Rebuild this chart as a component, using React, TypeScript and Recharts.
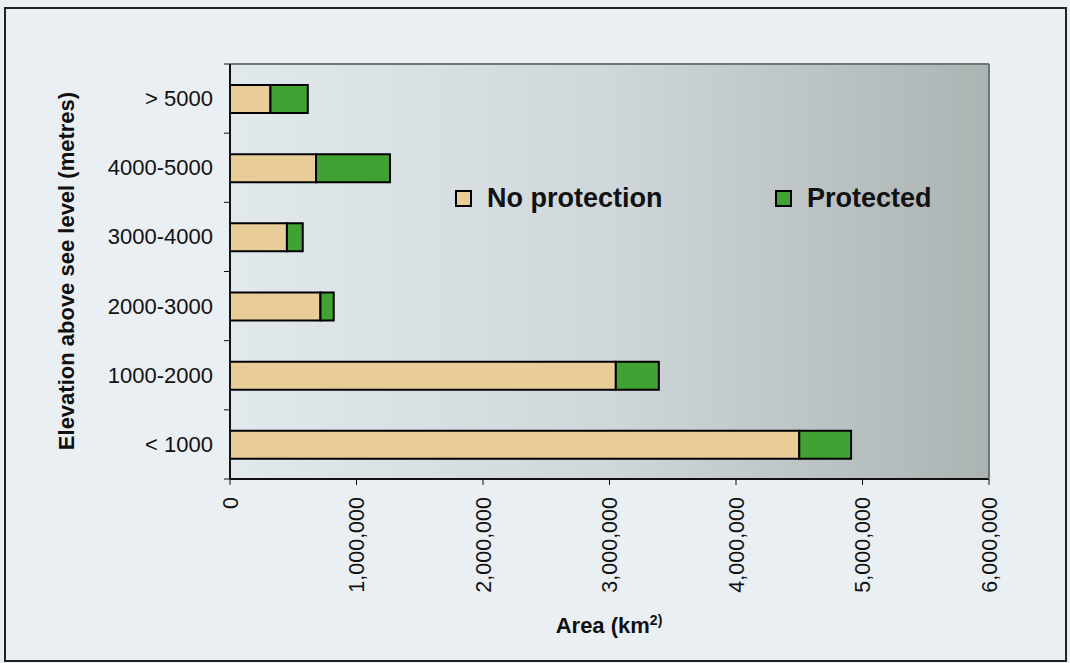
import React from 'react';
import { BarChart, Bar, XAxis, YAxis, CartesianGrid } from 'recharts';

const categories = ['> 5000', '4000-5000', '3000-4000', '2000-3000', '1000-2000', '< 1000'];
const noProtection = [320000, 680000, 450000, 715000, 3050000, 4500000];
const protectedArea = [295000, 585000, 125000, 105000, 340000, 410000];
const xTicks = [0, 1000000, 2000000, 3000000, 4000000, 5000000, 6000000];
const seriesNames = ['No protection', 'Protected'];
const colors = ['#e8cd98', '#3fa233'];

const data = categories.map((c, i) => ({ cat: c, np: noProtection[i], pr: protectedArea[i] }));

const FONT = '"Liberation Sans", Arial, sans-serif';
const CHART_W = 1070;
const CHART_H = 663;
const MARGIN = { top: 63, right: 80, bottom: 183, left: 229 };
const Y_TICK_MARGIN = 17;
const Y_TICK_LEN = 6;

const fmt = (v: number) => v.toLocaleString('en-US');

const XTick = (props: any) => {
  const { x, y, payload } = props;
  return (
    <g transform={`translate(${x},${y})`}>
      <text transform="rotate(-90)" textAnchor="end" dy="0.35em" fontFamily={FONT} fontSize={21.5} fill="#111">
        {fmt(payload.value)}
      </text>
    </g>
  );
};

const YTick = (props: any) => {
  const { x, y, payload, index } = props;
  const plotH = CHART_H - MARGIN.top - MARGIN.bottom - 2;
  const band = plotH / categories.length;
  const ax = x + Y_TICK_MARGIN;
  const lines = [y - band / 2];
  if (index === categories.length - 1) lines.push(y + band / 2);
  return (
    <g>
      {lines.map((ly, i) => (
        <line key={i} x1={ax - Y_TICK_LEN} x2={ax} y1={ly} y2={ly} stroke="#111" strokeWidth={1} />
      ))}
      <text x={x} y={y} textAnchor="end" dominantBaseline="central" fontFamily={FONT} fontSize={22} fill="#111">
        {payload.value}
      </text>
    </g>
  );
};

export default function App() {
  return (
    <div style={{ position: 'absolute', left: 0, top: 0, width: CHART_W, height: CHART_H, background: '#eaeff3', fontFamily: FONT }}>
      <svg width={0} height={0} style={{ position: 'absolute' }}>
        <defs>
          <linearGradient id="plotBg" x1="0" y1="0" x2="1" y2="0">
            <stop offset="0" stopColor="#e1e9ed" />
            <stop offset="0.5" stopColor="#cfd7da" />
            <stop offset="1" stopColor="#abb3b3" />
          </linearGradient>
        </defs>
      </svg>
      <div style={{ position: 'absolute', left: 4, top: 7, width: 1063, height: 655, border: '2px solid #222', boxSizing: 'border-box' }} />
      <div style={{ position: 'absolute', left: 0, top: 0 }}>
        <BarChart
          layout="vertical"
          width={CHART_W}
          height={CHART_H}
          data={data}
          margin={MARGIN}
          barSize={28}
        >
          <CartesianGrid horizontal={false} vertical={false} fill="url(#plotBg)" stroke="none" />
          <XAxis
            type="number"
            domain={[0, 6000000]}
            ticks={xTicks}
            interval={0}
            height={1}
            tickSize={6}
            tickMargin={12}
            axisLine={{ stroke: '#111', strokeWidth: 2 }}
            tickLine={{ stroke: '#111' }}
            tick={<XTick />}
          />
          <XAxis
            xAxisId="top"
            orientation="top"
            type="number"
            domain={[0, 6000000]}
            height={1}
            tick={false}
            tickLine={false}
            axisLine={{ stroke: '#6f7676', strokeWidth: 2 }}
          />
          <YAxis
            type="category"
            dataKey="cat"
            width={1}
            interval={0}
            tickLine={false}
            tickSize={0}
            tickMargin={Y_TICK_MARGIN}
            axisLine={{ stroke: '#111', strokeWidth: 2 }}
            tick={<YTick />}
          />
          <YAxis
            yAxisId="right"
            orientation="right"
            type="number"
            domain={[0, 6]}
            width={1}
            tick={false}
            tickLine={false}
            axisLine={{ stroke: '#6f7676', strokeWidth: 2 }}
          />
          <Bar dataKey="np" name={seriesNames[0]} stackId="a" fill={colors[0]} stroke="#000" strokeWidth={2} isAnimationActive={false} />
          <Bar dataKey="pr" name={seriesNames[1]} stackId="a" fill={colors[1]} stroke="#000" strokeWidth={2} isAnimationActive={false} />
        </BarChart>
      </div>
      {/* Legend */}
      <div style={{ position: 'absolute', left: 455, top: 183, display: 'flex', alignItems: 'center', height: 30 }}>
        <span style={{ width: 13, height: 13, background: colors[0], border: '2px solid #000', display: 'inline-block' }} />
        <span style={{ marginLeft: 15, fontSize: 27, fontWeight: 'bold', color: '#111' }}>{seriesNames[0]}</span>
      </div>
      <div style={{ position: 'absolute', left: 775, top: 183, display: 'flex', alignItems: 'center', height: 30 }}>
        <span style={{ width: 13, height: 13, background: colors[1], border: '2px solid #000', display: 'inline-block' }} />
        <span style={{ marginLeft: 15, fontSize: 27, fontWeight: 'bold', color: '#111' }}>{seriesNames[1]}</span>
      </div>
      {/* Axis titles */}
      <div style={{ position: 'absolute', left: 509, top: 612, width: 200, textAlign: 'center', fontSize: 22, fontWeight: 'bold', color: '#111' }}>
        Area (km<sup style={{ fontSize: 14 }}>2)</sup>
      </div>
      <div
        style={{
          position: 'absolute',
          left: 67,
          top: 271,
          transform: 'translate(-50%, -50%) rotate(-90deg)',
          whiteSpace: 'nowrap',
          fontSize: 22,
          fontWeight: 'bold',
          color: '#111',
        }}
      >
        Elevation above see level (metres)
      </div>
    </div>
  );
}
